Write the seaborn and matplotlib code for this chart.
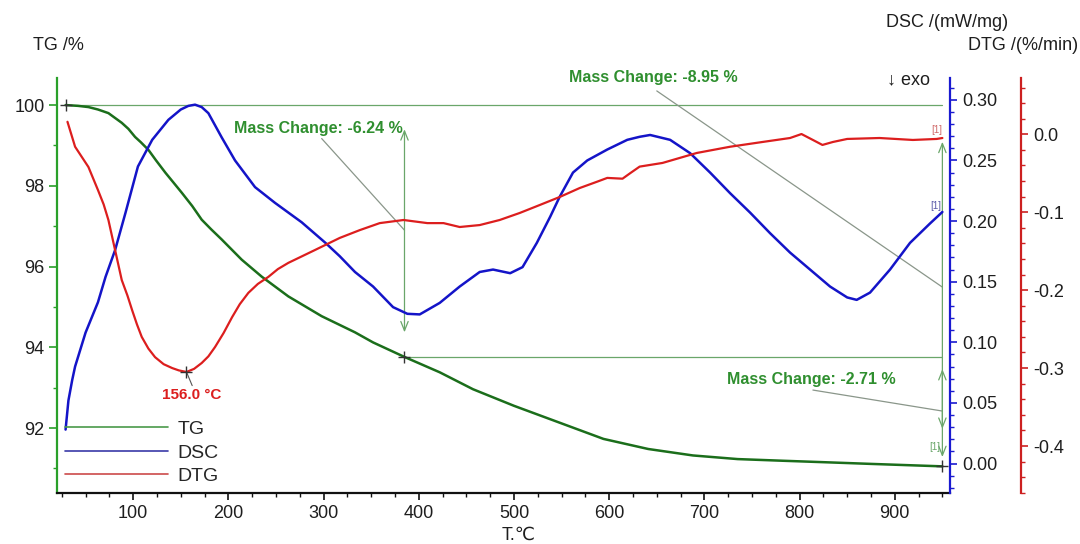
import matplotlib
matplotlib.use("Agg")
import matplotlib.pyplot as plt
from matplotlib.lines import Line2D
from matplotlib.ticker import MultipleLocator, FormatStrFormatter
import seaborn as sns

# ---- measured curves -------------------------------------------------------
tg_temp = [29, 42, 53, 63, 74, 81, 88, 95, 102, 108, 116, 124, 134, 142, 151,
           162, 172, 182, 193, 214, 235, 263, 298, 333, 352, 385, 422, 457,
           500, 547, 594, 641, 688, 735, 781, 829, 876, 950]
tg_mass = [100.0, 99.98, 99.95, 99.89, 99.80, 99.68, 99.56, 99.41, 99.21,
           99.08, 98.89, 98.63, 98.32, 98.09, 97.83, 97.50, 97.16, 96.92,
           96.67, 96.17, 95.75, 95.26, 94.77, 94.37, 94.12, 93.76, 93.38,
           92.96, 92.55, 92.14, 91.73, 91.48, 91.32, 91.23, 91.19, 91.15,
           91.11, 91.05]

dsc_temp = [29, 32, 36, 39, 50, 63, 71, 81, 92, 105, 120, 137, 150, 158, 165,
            172, 179, 193, 207, 228, 249, 277, 302, 317, 333, 352, 373, 388,
            401, 422, 443, 464, 478, 496, 509, 524, 538, 548, 562, 577, 598,
            619, 632, 643, 664, 685, 706, 727, 748, 769, 790, 811, 832, 850,
            860, 874, 895, 916, 937, 950]
dsc_signal = [0.028, 0.052, 0.069, 0.080, 0.108, 0.133, 0.154, 0.176, 0.207,
              0.245, 0.267, 0.2835, 0.292, 0.295, 0.296, 0.294, 0.289, 0.269,
              0.250, 0.228, 0.215, 0.199, 0.182, 0.171, 0.158, 0.146, 0.129,
              0.1235, 0.123, 0.1325, 0.146, 0.158, 0.160, 0.157, 0.162, 0.182,
              0.2035, 0.220, 0.240, 0.250, 0.259, 0.267, 0.2695, 0.271, 0.267,
              0.256, 0.240, 0.223, 0.207, 0.190, 0.174, 0.160, 0.146, 0.137,
              0.135, 0.141, 0.160, 0.182, 0.198, 0.2075]

dtg_temp = [31, 39, 53, 63, 69, 74, 81, 88, 94, 99, 104, 109, 116, 123, 132,
            141, 148, 156, 164, 172, 179, 186, 195, 204, 212, 221, 231, 242,
            252, 263, 291, 317, 338, 359, 384, 409, 426, 443, 464, 485, 506,
            527, 548, 569, 587, 598, 614, 622, 632, 656, 692, 727, 761, 790,
            802, 814, 824, 835, 850, 884, 919, 944, 950]
dtg_rate = [0.016, -0.016, -0.042, -0.0715, -0.090, -0.110, -0.1485, -0.187,
            -0.207, -0.226, -0.244, -0.260, -0.275, -0.286, -0.295, -0.300,
            -0.303, -0.305, -0.301, -0.2935, -0.285, -0.273, -0.255, -0.2345,
            -0.218, -0.2035, -0.192, -0.183, -0.173, -0.165, -0.1485, -0.133,
            -0.123, -0.114, -0.110, -0.114, -0.114, -0.119, -0.1165, -0.110,
            -0.101, -0.0908, -0.0805, -0.069, -0.061, -0.056, -0.057, -0.050,
            -0.0415, -0.0368, -0.024, -0.016, -0.0099, -0.0048, 0.0003,
            -0.0073, -0.0137, -0.0099, -0.006, -0.0048, -0.0073, -0.006,
            -0.0048]

# ---- evaluation results ----------------------------------------------------
step_temps = [29, 385, 950]          # start, split, end of mass-change evaluation
mass_changes = [-6.24, -2.71, -8.95]
dtg_peak_temp = 156.0
dtg_peak_rate = -0.305

# ---- axis ticks ------------------------------------------------------------
x_ticks = [100, 200, 300, 400, 500, 600, 700, 800, 900]
tg_ticks = [92, 94, 96, 98, 100]
dsc_ticks = [0.00, 0.05, 0.10, 0.15, 0.20, 0.25, 0.30]
dtg_ticks = [-0.4, -0.3, -0.2, -0.1, 0.0]

# ---- style -----------------------------------------------------------------
sns.set_theme(style="ticks")
plt.rcParams["font.family"] = ["Liberation Sans", "DejaVu Sans"]

C_TG = "#1b6e1b"
C_DSC = "#1414c8"
C_DTG = "#dc1e1e"
C_TG_AX = "#2aa02a"
C_DSC_AX = "#1a1ad0"
C_DTG_AX = "#cc2020"
C_ANN = "#6aa66a"
C_TXT = "#2f8f2f"
C_LEAD = "#8a968a"
C_LBL = "#1e1e1e"
FS = 13

fig = plt.figure(figsize=(10.8, 5.44), dpi=100)
fig.patch.set_facecolor("white")
ax = fig.add_axes([0.05278, 0.09375, 0.82685, 0.76287])
ax_dsc = ax.twinx()
ax_dtg = ax.twinx()

# ---- curves ----------------------------------------------------------------
sns.lineplot(x=tg_temp, y=tg_mass, ax=ax, color=C_TG, lw=1.8)
sns.lineplot(x=dsc_temp, y=dsc_signal, ax=ax_dsc, color=C_DSC, lw=1.8)
sns.lineplot(x=dtg_temp, y=dtg_rate, ax=ax_dtg, color=C_DTG, lw=1.6)

# ---- limits ----------------------------------------------------------------
ax.set_xlim(20, 958)
ax.set_ylim(90.39, 100.67)
ax_dsc.set_ylim(-0.0243, 0.318)
ax_dtg.set_ylim(-0.4603, 0.0722)

# ---- spines & ticks --------------------------------------------------------
for s in ["top", "right"]:
    ax.spines[s].set_visible(False)
ax.spines["left"].set_color(C_TG_AX)
ax.spines["left"].set_linewidth(1.6)
ax.spines["bottom"].set_color("#111111")
ax.spines["bottom"].set_linewidth(1.6)

for a in (ax_dsc, ax_dtg):
    for s in ["top", "left", "bottom"]:
        a.spines[s].set_visible(False)
ax_dsc.spines["right"].set_color(C_DSC_AX)
ax_dsc.spines["right"].set_linewidth(1.6)
ax_dtg.spines["right"].set_color(C_DTG_AX)
ax_dtg.spines["right"].set_linewidth(1.6)
ax_dtg.spines["right"].set_position(("outward", 51))

ax.set_xticks(x_ticks)
ax.xaxis.set_minor_locator(MultipleLocator(25))
ax.set_yticks(tg_ticks)
ax.yaxis.set_minor_locator(MultipleLocator(1))
ax.tick_params(axis="x", which="major", direction="out", length=5, width=1.2,
               color="#111111", labelsize=FS, labelcolor=C_LBL, pad=4)
ax.tick_params(axis="x", which="minor", direction="out", length=3, width=1.0,
               color="#111111")
ax.tick_params(axis="y", which="major", direction="out", length=6, width=1.2,
               color=C_TG_AX, labelsize=FS, labelcolor=C_LBL, pad=3)
ax.tick_params(axis="y", which="minor", direction="out", length=3, width=1.0,
               color=C_TG_AX)

ax_dsc.set_yticks(dsc_ticks)
ax_dsc.yaxis.set_minor_locator(MultipleLocator(0.01))
ax_dsc.yaxis.set_major_formatter(FormatStrFormatter("%.2f"))
ax_dsc.tick_params(axis="y", which="major", direction="out", length=5, width=1.2,
                   color=C_DSC_AX, labelsize=FS, labelcolor=C_LBL, pad=4)
ax_dsc.tick_params(axis="y", which="minor", direction="out", length=3, width=1.0,
                   color=C_DSC_AX)

ax_dtg.set_yticks(dtg_ticks)
ax_dtg.yaxis.set_minor_locator(MultipleLocator(0.02))
ax_dtg.yaxis.set_major_formatter(FormatStrFormatter("%.1f"))
ax_dtg.tick_params(axis="y", which="major", direction="out", length=5, width=1.2,
                   color=C_DTG_AX, labelsize=FS, labelcolor=C_LBL, pad=4)
ax_dtg.tick_params(axis="y", which="minor", direction="out", length=3, width=1.0,
                   color=C_DTG_AX)

# ---- axis titles -----------------------------------------------------------
ax.set_xlabel("T.\u2103", fontsize=FS, color=C_LBL, va="center")
ax.xaxis.set_label_coords(0.517, -0.101)
ax.set_ylabel("TG /%", fontsize=FS, color=C_LBL, rotation=0, ha="left", va="center")
ax.yaxis.set_label_coords(-0.0269, 1.0795)
ax_dsc.set_ylabel("DSC /(mW/mg)", fontsize=FS, color=C_LBL, rotation=0,
                  ha="left", va="center")
ax_dsc.yaxis.set_label_coords(0.9283, 1.1349)
ax_dtg.set_ylabel("DTG /(%/min)", fontsize=FS, color=C_LBL, rotation=0,
                  ha="right", va="center")
ax_dtg.yaxis.set_label_coords(1.1433, 1.0795)
fig.text(887 / 1080, 1 - 80 / 544, "\u2193 exo", fontsize=FS, color=C_LBL,
         ha="left", va="center")

# ---- mass-change evaluation ------------------------------------------------
t0, t1, t2 = step_temps
m0 = tg_mass[0]
m1 = m0 + mass_changes[0]
m2 = m1 + mass_changes[1]

ax.plot([t0, t2], [m0, m0], color=C_ANN, lw=0.9, zorder=1)
ax.plot([t1, t2], [m1, m1], color=C_ANN, lw=0.9, zorder=1)

arrow = dict(arrowstyle="<->,head_length=0.55,head_width=0.22", color=C_ANN,
             lw=0.9, shrinkA=0, shrinkB=0)
ax.annotate("", xy=(t1, 99.40), xytext=(t1, 94.37), arrowprops=arrow)
ax.annotate("", xy=(t2, 99.09), xytext=(t2, 91.28), arrowprops=arrow)
ax.annotate("", xy=(t2, 93.46), xytext=(t2, 91.98), arrowprops=arrow)

ax.plot([298, t1], [99.17, 96.90], color=C_LEAD, lw=0.9)
ax.plot([650, t2], [100.35, 95.49], color=C_LEAD, lw=0.9, clip_on=False)
ax.plot([814, t2], [92.94, 92.42], color=C_LEAD, lw=0.9)

mc_kw = dict(color=C_TXT, fontsize=11.5, fontweight="bold", ha="left",
             va="center")
ax.text(206, 99.43, f"Mass Change: {mass_changes[0]:.2f} %", **mc_kw)
ax.text(724, 93.21, f"Mass Change: {mass_changes[1]:.2f} %", **mc_kw)
ax.text(558, 100.67, f"Mass Change: {mass_changes[2]:.2f} %", **mc_kw)

cross = dict(marker="+", ms=9, mew=1.0, color="#333333", ls="none", zorder=6)
ax.plot([t0, t1, t2], [m0, m1, m2], clip_on=False, **cross)

# ---- DTG peak --------------------------------------------------------------
ax_dtg.plot([dtg_peak_temp], [dtg_peak_rate], **cross)
ax_dtg.plot([dtg_peak_temp, dtg_peak_temp + 6], [dtg_peak_rate, -0.3225],
            color="#555555", lw=0.8)
ax_dtg.text(dtg_peak_temp + 5, -0.3345, f"{dtg_peak_temp:.1f} \u00b0C",
            color=C_DTG, fontsize=11, fontweight="bold", ha="center",
            va="center")

# ---- curve end tags --------------------------------------------------------
ax_dtg.text(944, 0.0055, "[1]", color="#d06a6a", fontsize=7, ha="center",
            va="center")
ax_dsc.text(943, 0.2125, "[1]", color="#5a5aa8", fontsize=7, ha="center",
            va="center")
ax.text(942, 91.52, "[1]", color="#6aa66a", fontsize=7, ha="center",
        va="center")

# ---- legend ----------------------------------------------------------------
handles = [Line2D([], [], color="#4a9a4a", lw=1.2),
           Line2D([], [], color="#3a3aa8", lw=1.2),
           Line2D([], [], color="#cc4a4a", lw=1.2)]
ax_dtg.legend(handles, ["TG", "DSC", "DTG"], loc="upper left",
              bbox_to_anchor=(0.009, 0.1747), frameon=False, fontsize=14,
              handlelength=5.3, handletextpad=0.5, labelspacing=0.3,
              borderpad=0, borderaxespad=0)

fig.savefig("out.png", dpi=100, facecolor="white")
